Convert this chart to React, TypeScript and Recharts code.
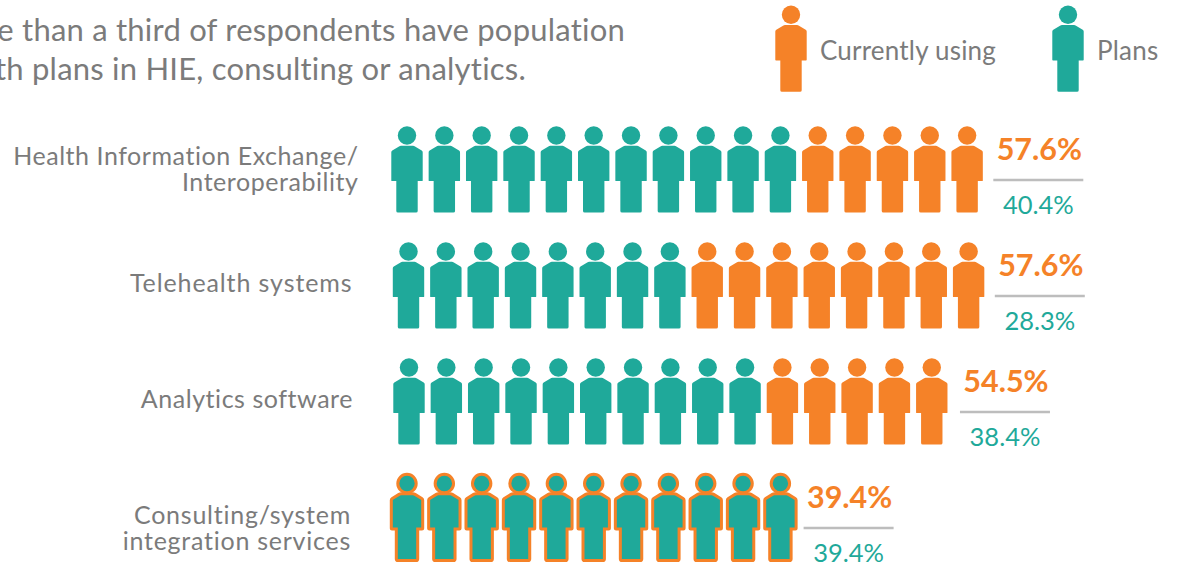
import { Scatter, ScatterChart, XAxis, YAxis } from "recharts";

const categories = [
  ["Health Information Exchange/", "Interoperability"],
  ["Telehealth systems"],
  ["Analytics software"],
  ["Consulting/system", "integration services"],
];
const planIcons = [11, 8, 10, 0];
const usingIcons = [5, 8, 5, 0];
const bothIcons = [0, 0, 0, 11];
const currentlyUsing = ["57.6%", "57.6%", "54.5%", "39.4%"];
const plans = ["40.4%", "28.3%", "38.4%", "39.4%"];
const headline = [
  "e than a third of respondents have population",
  "th plans in HIE, consulting or analytics.",
];

const TEAL = "#1FA99A";
const ORANGE = "#F58228";
const GREY = "#7B7B7B";
const FONT = "Lato, sans-serif";

// hand-placed rows in the original are a pixel or two off each other
const rowShift = [0, 1.5, 2, 0];
const labelShift = [-2, -2, 0, -5];
const labelRight = [358.5, 352.5, 353, 351];
const labelDy = [29.5, 40.5, 40.5, 40.5];
const labelSpacing = [0.55, 0.9, 0.55, 0.75];

const rows = categories.map((_, row) => row);
const planPoints = rows.flatMap((row) =>
  Array.from({ length: planIcons[row] }, (_, i) => ({ x: i, y: row })),
);
const usingPoints = rows.flatMap((row) =>
  Array.from({ length: usingIcons[row] }, (_, i) => ({
    x: planIcons[row] + i,
    y: row,
  })),
);
const bothPoints = rows.flatMap((row) =>
  Array.from({ length: bothIcons[row] }, (_, i) => ({ x: i, y: row })),
);
const labelPoints = rows.map((row) => ({
  x: planIcons[row] + usingIcons[row] + bothIcons[row] + 0.96,
  y: row,
}));

const BODY =
  "M-6 10.3 L6 10.3 Q7 10.3 8 10.9 L14.7 15 Q15.7 15.7 15.7 16.8 L15.7 45 Q15.7 45.6 15 45.6 L10.7 45.6 L10.7 75.4 Q10.7 77 9 77 L-9 77 Q-10.7 77 -10.7 75.4 L-10.7 45.6 L-15 45.6 Q-15.7 45.6 -15.7 45 L-15.7 16.8 Q-15.7 15.7 -14.7 15 L-8 10.9 Q-7 10.3 -6 10.3 Z";

function Person({ cx, cy, fill, stroke }: { cx: number; cy: number; fill: string; stroke?: string }) {
  return (
    <g transform={`translate(${cx} ${cy})`}>
      <circle r={9.2} fill={fill} stroke={stroke} strokeWidth={stroke ? 3 : 0} />
      <path d={BODY} fill={fill} stroke={stroke} strokeWidth={stroke ? 3 : 0} />
    </g>
  );
}

function personShape(fill: string, stroke?: string) {
  return (props: any) => (
    <Person cx={props.cx + rowShift[props.payload.y]} cy={props.cy} fill={fill} stroke={stroke} />
  );
}

function ValueLabel(props: any) {
  const row = props.payload.y;
  const x = props.cx + rowShift[row] + labelShift[row];
  return (
    <g fontFamily={FONT} textAnchor="middle">
      <text x={x + 1} y={props.cy + 24.5} fill={ORANGE} fontSize={30.5} fontWeight={700}>
        {currentlyUsing[row]}
      </text>
      <line x1={x - 45} x2={x + 45} y1={props.cy + 44.5} y2={props.cy + 44.5} stroke="#BDBDBD" strokeWidth={2.5} />
      <text x={x} y={props.cy + 78} fill={TEAL} fontSize={25.5}>
        {plans[row]}
      </text>
    </g>
  );
}

function CategoryTick(props: any) {
  const row = props.payload.value;
  return (
    <text fontFamily={FONT} fontSize={25} fill={GREY} textAnchor="end" letterSpacing={labelSpacing[row]}>
      {categories[row].map((line, i) => (
        <tspan key={line} x={labelRight[row]} y={props.y + labelDy[row] + i * 26}>
          {line}
        </tspan>
      ))}
    </text>
  );
}

function LegendItem({ color, label, left, textLeft }: { color: string; label: string; left: number; textLeft: number }) {
  return (
    <>
      <svg width={40} height={100} style={{ position: "absolute", left: left - 20, top: 0 }}>
        <Person cx={20} cy={14.8} fill={color} />
      </svg>
      <div style={{ position: "absolute", left: textLeft, top: 34, fontSize: 26, lineHeight: "32px", letterSpacing: 0.2, color: GREY, whiteSpace: "nowrap" }}>
        {label}
      </div>
    </>
  );
}

export default function App() {
  return (
    <div style={{ position: "absolute", left: 0, top: 0, width: 1184, height: 562, overflow: "hidden", fontFamily: FONT, background: "#fff" }}>
      {headline.map((line, i) => (
        <div
          key={line}
          style={{
            position: "absolute",
            right: i === 0 ? 559 : 658,
            top: 9 + i * 39,
            fontSize: 31,
            lineHeight: "40px",
            letterSpacing: 0.22,
            color: GREY,
            whiteSpace: "nowrap",
          }}
        >
          {line}
        </div>
      ))}
      <LegendItem color={ORANGE} label="Currently using" left={791} textLeft={820} />
      <LegendItem color={TEAL} label="Plans" left={1067.5} textLeft={1097} />
      <ScatterChart
        width={1184}
        height={562}
        margin={{ top: 135.5, right: 142.2, bottom: 78.5, left: 367 }}
        style={{ position: "absolute", left: 0, top: 0 }}
      >
        <XAxis type="number" dataKey="x" domain={[0, 17]} hide />
        <YAxis
          type="number"
          dataKey="y"
          domain={[0, 3]}
          ticks={[0, 1, 2, 3]}
          reversed
          width={40}
          axisLine={false}
          tickLine={false}
          tick={<CategoryTick />}
        />
        <Scatter name="Plans" data={planPoints} shape={personShape(TEAL)} isAnimationActive={false} />
        <Scatter name="Currently using" data={usingPoints} shape={personShape(ORANGE)} isAnimationActive={false} />
        <Scatter name="Both" data={bothPoints} shape={personShape(TEAL, ORANGE)} isAnimationActive={false} />
        <Scatter name="Values" data={labelPoints} shape={ValueLabel} isAnimationActive={false} />
      </ScatterChart>
    </div>
  );
}
